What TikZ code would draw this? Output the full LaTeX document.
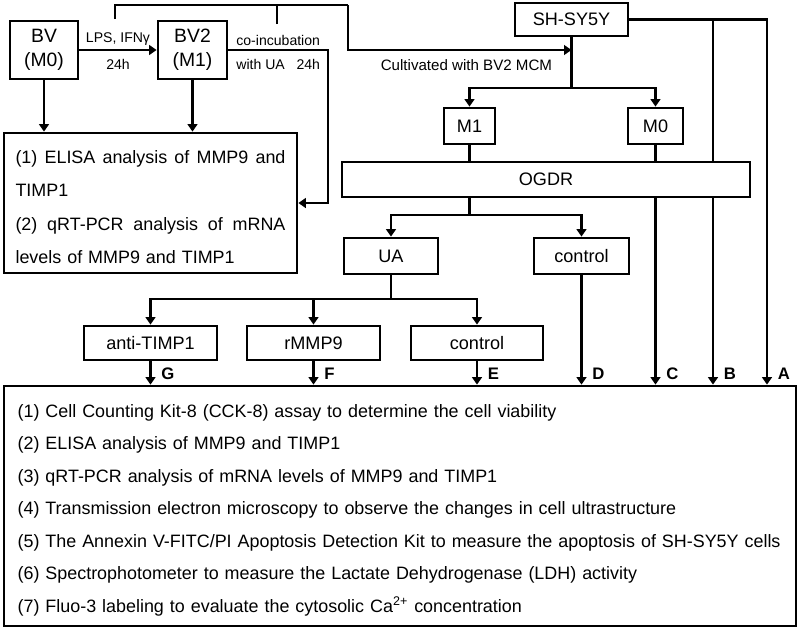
\documentclass[tikz,border=0pt]{standalone}
\usepackage{fontspec}
\setmainfont{Liberation Sans}
\usetikzlibrary{arrows.meta}

\begin{document}
\begin{tikzpicture}[x=0.02cm, y=-0.02cm,
    line width=1.25pt,
    >={Triangle[length=4.2pt,width=5.5pt]},
    box/.style={draw, line width=1.6pt, inner sep=0, font=\fontsize{10.3}{12}\selectfont},
    cellbox/.style={box, align=center, font=\fontsize{11}{13.5}\selectfont},
    listbox/.style={box, align=left, inner xsep=0.22cm, font=\fontsize{10.2}{18.5}\selectfont},
    note/.style={font=\fontsize{8}{10}\selectfont, inner sep=2pt},
    under/.style={note, below, yshift=-2.6pt},
    tag/.style={font=\fontsize{9.5}{11}\selectfont\bfseries, anchor=south west, inner sep=1pt, xshift=4.5pt, yshift=1.3pt}
  ]
  \useasboundingbox (0,0) rectangle (799,630);

  \node[cellbox, minimum width=1.36cm, minimum height=1.16cm] (bv) at (44,50) {BV\\(M0)};
  \node[cellbox, minimum width=1.38cm, minimum height=1.16cm] (bv2) at (192.5,50) {BV2\\(M1)};
  \node[listbox, minimum width=5.86cm, minimum height=2.8cm, text width=5.4cm,
        font=\fontsize{10.2}{18.9}\selectfont] (res1) at (150.5,203) {%
    \rule{0pt}{12pt}\makebox[5.4cm]{(1) \hfill ELISA \hfill analysis \hfill of \hfill MMP9 \hfill and}\\
    TIMP1\\
    \makebox[5.4cm]{(2) \hfill qRT-PCR \hfill analysis \hfill of \hfill mRNA}\\
    levels of MMP9 and TIMP1};

  \node[box, minimum width=2.26cm, minimum height=0.66cm] (sh) at (571.5,19.5) {SH-SY5Y};
  \node[box, minimum width=1.02cm, minimum height=0.72cm] (m1) at (469.5,126) {M1};
  \node[box, minimum width=1.1cm, minimum height=0.72cm] (m0) at (655.5,126) {M0};
  \node[box, minimum width=8.16cm, minimum height=0.7cm] (ogdr) at (546,179.5) {OGDR};
  \node[box, minimum width=1.88cm, minimum height=0.72cm] (ua) at (391,256) {UA};
  \node[box, minimum width=1.9cm, minimum height=0.72cm] (ctrla) at (581.5,256) {control};
  \node[box, minimum width=2.66cm, minimum height=0.68cm] (anti) at (150.5,343) {anti-TIMP1};
  \node[box, minimum width=2.66cm, minimum height=0.68cm] (rmmp) at (313.5,343) {rMMP9};
  \node[box, minimum width=2.64cm, minimum height=0.68cm] (ctrlb) at (477,343) {control};

  \node[listbox, minimum width=15.84cm, minimum height=4.8cm, text width=15.3cm] (res2) at (400,506) {%
    \rule{0pt}{12pt}(1) Cell Counting Kit-8 (CCK-8) assay to determine the cell viability\\
    (2) ELISA analysis of MMP9 and TIMP1\\
    (3) qRT-PCR analysis of mRNA levels of MMP9 and TIMP1\\
    (4) Transmission electron microscopy to observe the changes in cell ultrastructure\\
    (5) The Annexin V-FITC/PI Apoptosis Detection Kit to measure the apoptosis of SH-SY5Y cells\\
    (6) Spectrophotometer to measure the Lactate Dehydrogenase (LDH) activity\\
    (7) Fluo-3 labeling to evaluate the cytosolic Ca\textsuperscript{2+} concentration};

  \coordinate (cobend) at (328,50);
  \coordinate (brl) at (115,19);
  \coordinate (brm) at (277,24);
  \coordinate (brtop) at (348,5);
  \coordinate (mcm) at (571.5,50);
  \coordinate (split1) at (571.5,88);
  \coordinate (cornera) at (767,19.5);
  \coordinate (branchb) at (713,19.5);
  \coordinate (split2) at (469.5,215);
  \coordinate (split3) at (391,299);

  \draw[->] (bv) -- node[note, above] {LPS, IFNγ} node[under] {24h} (bv2);
  \draw[->] (bv) -- (bv |- res1.north);
  \draw[->] (bv2) -- (bv2 |- res1.north);
  \draw[->] (bv2) -- node[note, above] {co-incubation} node[under] {with UA~~~24h} (cobend) |- (res1);

  \draw (brl) |- (brtop);
  \draw (brm) -- (brm |- brtop);
  \draw[->] (brtop) |- node[under, pos=0.765, yshift=-0.4pt, font=\fontsize{8.6}{10}\selectfont] {Cultivated with BV2 MCM} (mcm);

  \draw (sh) -- (split1);
  \draw[->] (split1) -| (m1);
  \draw[->] (split1) -| (m0);
  \draw[->] (sh.east) -- (cornera) -- (cornera |- res2.north) node[tag] {A};
  \draw (branchb) -- (branchb |- ogdr.north);
  \draw[->] (branchb |- ogdr.south) -- (branchb |- res2.north) node[tag] {B};

  \draw (m1) -- (m1 |- ogdr.north);
  \draw (m0) -- (m0 |- ogdr.north);
  \draw[->] (m0 |- ogdr.south) -- (m0 |- res2.north) node[tag] {C};

  \draw (m1 |- ogdr.south) -- (split2);
  \draw[->] (split2) -| (ua);
  \draw[->] (split2) -| (ctrla);
  \draw[->] (ctrla) -- (ctrla |- res2.north) node[tag] {D};

  \draw (ua) -- (split3);
  \draw[->] (split3) -| (anti);
  \draw[->] (split3) -| (rmmp);
  \draw[->] (split3) -| (ctrlb);
  \draw[->] (ctrlb) -- (ctrlb |- res2.north) node[tag] {E};
  \draw[->] (rmmp) -- (rmmp |- res2.north) node[tag] {F};
  \draw[->] (anti) -- (anti |- res2.north) node[tag] {G};
\end{tikzpicture}
\end{document}
